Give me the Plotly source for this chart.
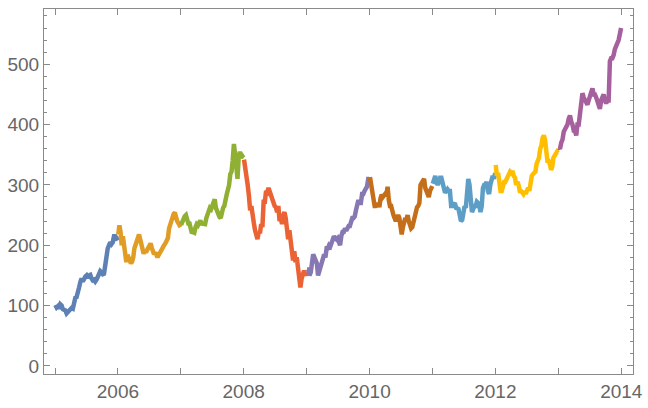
import pandas as pd
import plotly.graph_objects as go

years = [2005, 2006, 2007, 2008, 2009, 2010, 2011, 2012, 2013]

v2005 = [101, 97, 99, 95, 102, 100, 94, 93, 92, 87, 90, 90, 96, 96, 95, 111,
         113, 114, 120, 130, 139, 145, 140, 145, 148, 150, 146, 150, 151,
         145, 142, 143, 140, 143, 148, 153, 157, 155, 152, 153, 170, 186,
         195, 200, 205, 202, 205, 215, 215, 212, 208]
v2006 = [218, 233, 222, 200, 215, 200, 186, 172, 184, 180, 176, 170, 173, 180, 195,
         203, 206, 212, 218, 210, 197, 190, 186, 192, 188, 192, 196, 200,
         203, 196, 190, 185, 188, 182, 180, 184, 187, 188, 194, 198, 200,
         204, 208, 212, 228, 236, 240, 245, 252, 254, 243, 240, 237, 232, 230]
v2007 = [234, 240, 245, 248, 250, 242, 236, 236, 225, 220, 222, 221, 230,
         235, 233, 238, 241, 236, 235, 236, 235, 245, 250, 252, 262, 260,
         264, 272, 276, 262, 256, 253, 247, 245, 255, 262, 265, 280, 284,
         292, 300, 318, 322, 340, 368, 350, 332, 310, 346, 355, 345, 348, 345]
v2008 = [342, 330, 320, 300, 282, 258, 265, 255, 237, 225, 218, 210, 222, 220,
         235, 230, 272, 272, 290, 288, 295, 288, 285, 277, 270, 265, 263,
         255, 265, 240, 245, 235, 250, 255, 245, 230, 210, 225, 205, 200,
         175, 190, 172, 180, 165, 155, 130, 145, 155, 158, 150, 155]
v2009 = [160, 160, 150, 155, 170, 185, 180, 172, 170, 150, 158, 165, 170, 175,
         185, 180, 195, 195, 200, 198, 205, 214, 215, 212, 210, 212, 208,
         200, 215, 222, 222, 228, 224, 230, 232, 232, 240, 245, 245, 248,
         258, 268, 275, 270, 270, 285, 285, 290, 295, 297, 310, 310]
v2010 = [313, 300, 290, 275, 265, 265, 266, 270, 263, 278, 284, 280, 282, 285,
         284, 297, 275, 265, 265, 255, 250, 245, 240, 245, 250, 245, 230,
         218, 230, 235, 245, 242, 250, 240, 232, 228, 230, 240, 245, 255, 263,
         265, 270, 300, 305, 308, 310, 295, 290, 285, 280, 290, 295, 298]
v2011 = [302, 308, 315, 305, 300, 305, 312, 312, 305, 300, 287, 290, 293,
         290, 290, 265, 265, 268, 270, 262, 260, 260, 250, 240, 242, 250,
         265, 262, 300, 310, 300, 280, 255, 260, 265, 265, 272, 270, 265,
         255, 265, 295, 300, 300, 305, 290, 285, 300, 310, 315, 310, 320]
v2012 = [333, 315, 320, 292, 290, 290, 300, 305, 305, 310, 312, 320, 322, 320,
         323, 315, 312, 300, 305, 300, 290, 290, 285, 285, 290, 285, 290,
         295, 290, 305, 315, 318, 320, 322, 335, 340, 345, 360, 365, 378,
         382, 375, 348, 340, 340, 335, 325, 330, 345, 350, 350, 355, 353]
v2013 = [362, 360, 370, 375, 388, 392, 400, 400, 410, 415, 405, 400,
         390, 390, 382, 400, 400, 420, 430, 452, 445, 440, 435, 433, 440,
         448, 455, 460, 450, 450, 445, 440, 432, 426, 440, 445, 450, 440,
         435, 440, 440, 505, 510, 510, 515, 525, 530, 535, 540, 550, 560]

series = [v2005, v2006, v2007, v2008, v2009, v2010, v2011, v2012, v2013]
colors = ["#5E81B5", "#E19C24", "#8FB032", "#EB6235", "#8778B3",
          "#C56E1A", "#5D9EC7", "#FFBF00", "#A5609D"]

tick_years = list(range(2005, 2015))
tick_text = [str(y) if y % 2 == 0 else "" for y in tick_years]
y_ticks = [0, 100, 200, 300, 400, 500]

fig = go.Figure()
for yr, vals, col in zip(years, series, colors):
    dates = pd.date_range(f"{yr}-01-03", f"{yr}-12-31", periods=len(vals))
    fig.add_trace(go.Scatter(x=dates, y=vals, mode="lines",
                             line=dict(color=col, width=4.5),
                             showlegend=False, hoverinfo="skip"))

axis_color = "#8a8a8a"
font = dict(family="Liberation Sans, Arial, sans-serif", size=19, color="#666666")

fig.update_layout(
    width=648, height=408,
    margin=dict(l=44, r=15, t=9, b=34),
    plot_bgcolor="white", paper_bgcolor="white",
    font=font,
    xaxis=dict(
        type="date", automargin=False,
        range=["2004-10-29", "2014-03-10"],
        tickvals=[f"{y}-01-01" for y in tick_years],
        ticktext=tick_text,
        showgrid=False, zeroline=False,
        showline=True, linecolor=axis_color, linewidth=1,
        mirror="allticks", ticks="inside", ticklen=6, tickcolor=axis_color,
        tickfont=font,
    ),
    yaxis=dict(
        automargin=False,
        range=[-13.3, 591.5],
        tickvals=y_ticks,
        showgrid=False, zeroline=False,
        showline=True, linecolor=axis_color, linewidth=1,
        mirror="allticks", ticks="inside", ticklen=6, tickcolor=axis_color,
        tickfont=font,
        minor=dict(dtick=20, tick0=0, ticks="inside", ticklen=3, tickcolor=axis_color),
    ),
)

fig.write_html("out.html",
               config={"displayModeBar": False, "staticPlot": True},
               post_script="document.body.style.margin='0';document.body.style.overflow='hidden';")
